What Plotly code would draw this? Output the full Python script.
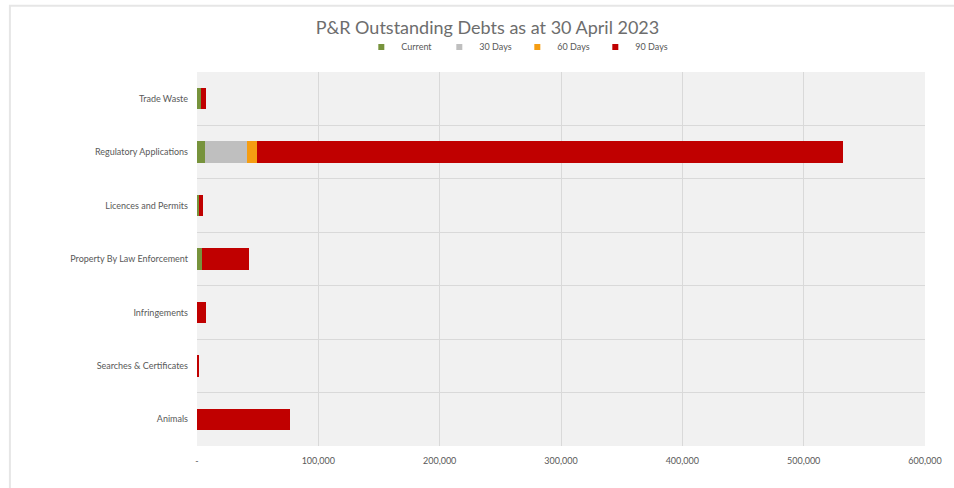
import plotly.graph_objects as go

categories = ["Animals", "Searches & Certificates", "Infringements",
              "Property By Law Enforcement", "Licences and Permits",
              "Regulatory Applications", "Trade Waste"]
current = [0, 0, 0, 4000, 1500, 6500, 3500]
days30 = [0, 0, 0, 0, 0, 35000, 0]
days60 = [0, 0, 0, 0, 0, 8000, 0]
days90 = [77000, 1500, 7500, 39000, 3500, 483000, 4200]

series_names = ["Current", "30 Days", "60 Days", "90 Days"]
series_values = [current, days30, days60, days90]
series_colors = ["#77933c", "#bfbfbf", "#f59d12", "#c00000"]

x_tickvals = [0, 100000, 200000, 300000, 400000, 500000, 600000]
x_ticktext = ["-", "100,000", "200,000", "300,000", "400,000", "500,000", "600,000"]

ypos = list(range(len(categories)))

fig = go.Figure()
for name, vals, col in zip(series_names, series_values, series_colors):
    fig.add_trace(go.Bar(y=ypos, x=vals, orientation="h", name=name,
                         legendgroup=name, showlegend=False,
                         marker=dict(color=col, line=dict(width=0))))
# compact legend entries with small square markers
for name, col in zip(series_names, series_colors):
    fig.add_trace(go.Scatter(x=[None], y=[None], mode="markers", name=name,
                             legendgroup=name, showlegend=True,
                             marker=dict(symbol="square", size=6, color=col)))

fig.update_layout(
    barmode="stack",
    bargap=0.6,
    width=954, height=488,
    margin=dict(l=197, r=27, t=72, b=42),
    paper_bgcolor="white",
    plot_bgcolor="#f1f1f1",
    font=dict(family="Lato, Open Sans, sans-serif", color="#595959", size=9),
    title=dict(text="P&R Outstanding Debts as at 30 April 2023",
               x=0.511, xanchor="center", y=0.943, yanchor="middle",
               font=dict(size=18, color="#6d6d6d")),
    legend=dict(orientation="h", x=0.44, xanchor="center", y=1.067, yanchor="middle",
                font=dict(size=9, color="#595959"), itemwidth=30,
                entrywidth=33, entrywidthmode="pixels",
                traceorder="normal", bgcolor="rgba(0,0,0,0)"),
    showlegend=True,
    xaxis=dict(range=[0, 600000], tickvals=x_tickvals, ticktext=x_ticktext,
               showgrid=True, gridcolor="#d9d9d9", gridwidth=1, zeroline=False,
               showline=False, ticks="", ticklabelstandoff=8,
               tickfont=dict(size=9, color="#595959")),
    yaxis=dict(range=[-0.5, len(categories) - 0.5], tickvals=ypos, ticktext=categories,
               showgrid=False, zeroline=False, showline=False, ticks="",
               ticklabelstandoff=8,
               minor=dict(tick0=0.5, dtick=1, showgrid=True, gridcolor="#d9d9d9", gridwidth=1, ticks=""),
               tickfont=dict(size=9, color="#595959")),
    shapes=[dict(type="rect", xref="paper", yref="paper",
                 x0=-0.257, x1=1.1, y0=-0.12, y1=1.177,
                 line=dict(color="#e6e6e6", width=2), fillcolor="rgba(0,0,0,0)", layer="below")],
)

fig.write_html("out.html")
